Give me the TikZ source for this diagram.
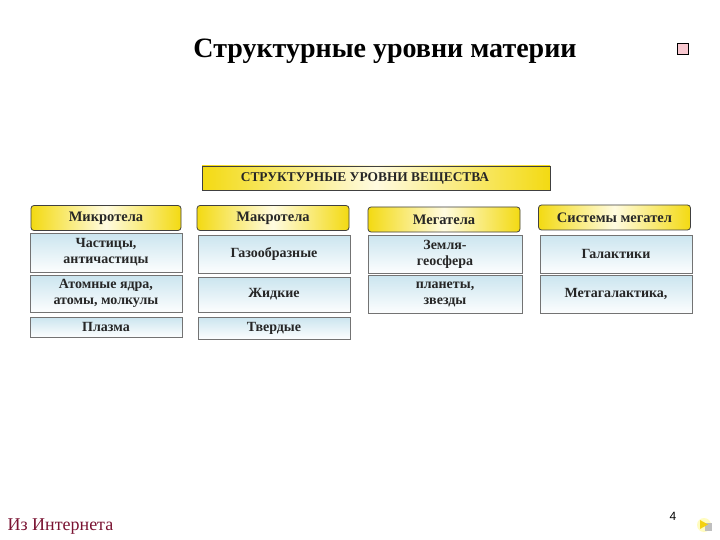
\documentclass[tikz,border=0pt]{standalone}
\usepackage{fontspec}
\setmainfont{Liberation Serif}
\setsansfont{Liberation Sans}
\definecolor{ylw}{HTML}{F3DA12}
\definecolor{ylwlight}{HTML}{FFFBE0}
\definecolor{lblue}{HTML}{CBE5EF}
\definecolor{maroon}{HTML}{7A1332}
\definecolor{pinkbox}{HTML}{F8C8D0}
\begin{document}
\begin{tikzpicture}[x=1pt,y=-1pt,
  ybox/.style={draw=black!75, line width=0.8pt, rounded corners=3pt,
    left color=ylw, right color=ylw, middle color=ylwlight,
    font=\bfseries\fontsize{14.5}{15}\selectfont, inner sep=0pt, text=black!85},
  bbox/.style={draw=black!55, line width=0.8pt,
    top color=lblue, bottom color=white!95!lblue,
    font=\bfseries\fontsize{14}{16}\selectfont, inner sep=0pt, align=center, text=black!85},
  hbox/.style={draw=black!75, line width=0.7pt,
    left color=ylw, right color=ylw, middle color=ylwlight,
    font=\bfseries\fontsize{13.4}{14}\selectfont, inner sep=0pt, text=black!85}
]
\useasboundingbox (0,0) rectangle (720,540);
\fill[white] (0,0) rectangle (720,540);

% title
\node[font=\bfseries\fontsize{28}{32}\selectfont] (title) at (385,51) {Структурные уровни материи};
\node[draw=black, line width=0.8pt, fill=pinkbox, minimum size=11pt, inner sep=0pt] (sq) at (683,49) {};

% header
\node[hbox, minimum width=348pt, minimum height=24pt] (hdr) at (376,178) {\hspace*{-22pt}СТРУКТУРНЫЕ УРОВНИ ВЕЩЕСТВА};

% column headers
\node[ybox, minimum width=150pt, minimum height=25pt] (m1) at (106,218) {Микротела};
\node[ybox, minimum width=152pt, minimum height=25pt] (m2) at (273,218) {Макротела};
\node[ybox, minimum width=152pt, minimum height=25pt] (m3) at (444,219.5) {Мегатела};
\node[ybox, minimum width=152pt, minimum height=25pt] (m4) at (614.5,217.5) {Системы мегател};

% column 1
\node[bbox, minimum width=152pt, minimum height=39pt] (c11) at (106,252.5) {Частицы,\\античастицы};
\node[bbox, minimum width=152pt, minimum height=37pt] (c12) at (106,293.5) {Атомные ядра,\\атомы, молкулы};
\node[bbox, minimum width=152pt, minimum height=20pt] (c13) at (106,327) {Плазма};

% column 2
\node[bbox, minimum width=152pt, minimum height=38pt] (c21) at (274,254) {Газообразные};
\node[bbox, minimum width=152pt, minimum height=35pt] (c22) at (274,294.5) {Жидкие};
\node[bbox, minimum width=152pt, minimum height=22pt] (c23) at (274,328) {Твердые};

% column 3
\node[bbox, minimum width=154pt, minimum height=38pt] (c31) at (445,254) {Земля-\\геосфера};
\node[bbox, minimum width=154pt, minimum height=38pt] (c32) at (445,294) {планеты,\\звезды};

% column 4
\node[bbox, minimum width=152pt, minimum height=38pt] (c41) at (616,254) {Галактики};
\node[bbox, minimum width=152pt, minimum height=38pt] (c42) at (616,294) {Метагалактика,};

% footer
\node[anchor=west, text=maroon, font=\fontsize{18}{20}\selectfont] (src) at (4,527) {Из Интернета};
\node[font=\sffamily\fontsize{12}{13}\selectfont] (pg) at (673,516) {4};
\fill[yellow!25] (704,525) circle (7pt);
\fill[black!25] (705,523) rectangle (712,531);
\fill[ylw!90!orange] (700,520) -- (708,524.5) -- (700,529) -- cycle;
\end{tikzpicture}
\end{document}
